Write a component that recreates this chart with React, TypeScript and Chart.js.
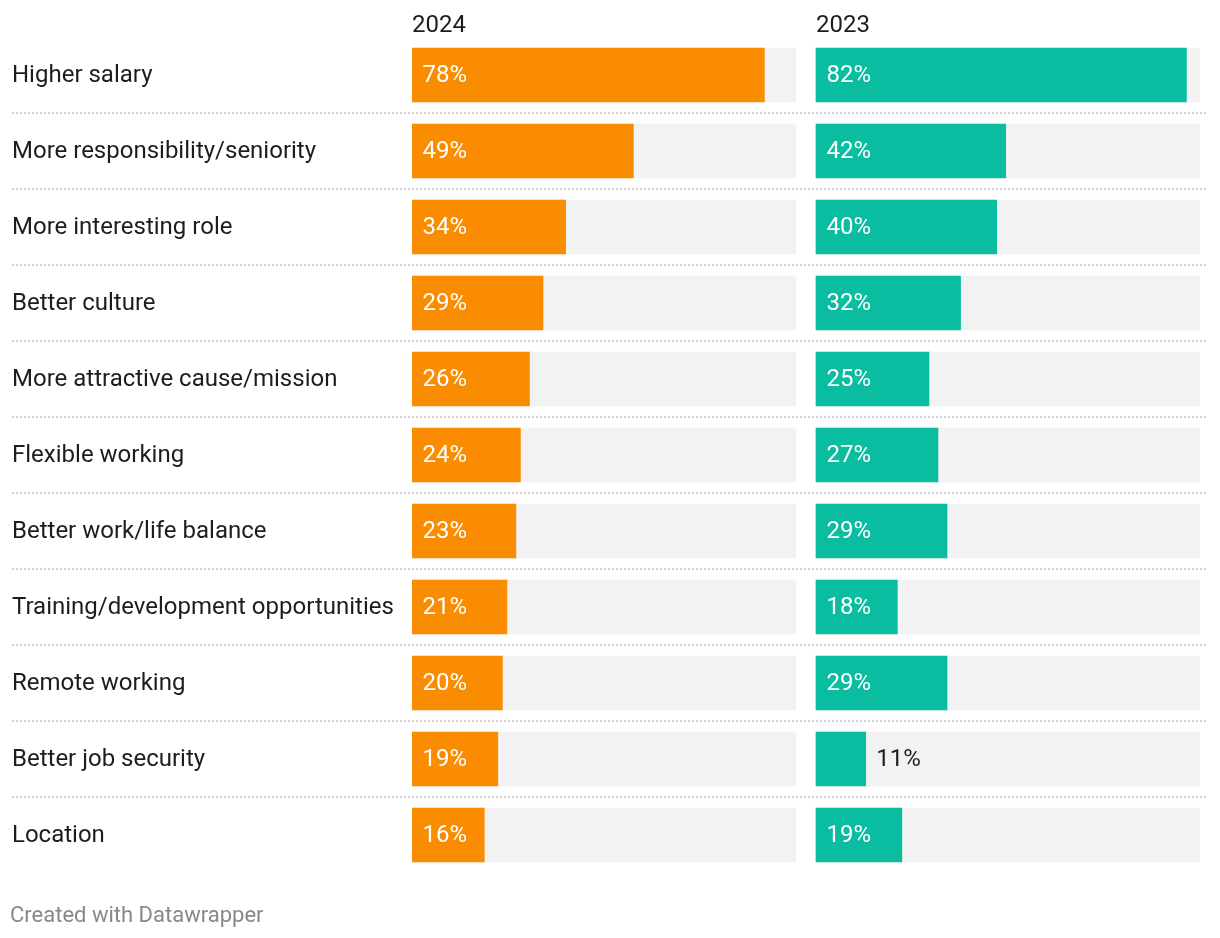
import React, { useEffect, useRef } from "react";
import { Chart, registerables } from "chart.js";

Chart.register(...registerables);

const categories = [
  "Higher salary",
  "More responsibility/seniority",
  "More interesting role",
  "Better culture",
  "More attractive cause/mission",
  "Flexible working",
  "Better work/life balance",
  "Training/development opportunities",
  "Remote working",
  "Better job security",
  "Location",
];
const values2024 = [78, 49, 34, 29, 26, 24, 23, 21, 20, 19, 16];
const values2023 = [82, 42, 40, 32, 25, 27, 29, 18, 29, 11, 19];
const panelTitles = ["2024", "2023"];
const footerText = "Created with Datawrapper";

const PANEL_MAX = 85;
const GAP = 4.427;
const OFFSET = PANEL_MAX + GAP;

const FONT = "Roboto, 'Noto Sans', sans-serif";
const ORANGE = "#F98C00";
const TEAL = "#0BBDA0";
const TRACK = "#F2F2F2";
const TEXT = "#1d1d1d";

export default function App() {
  const ref = useRef<HTMLCanvasElement | null>(null);

  useEffect(() => {
    if (!ref.current) return;

    const overlay = {
      id: "overlay",
      beforeDatasetsDraw(chart: any) {
        const ctx = chart.ctx;
        const y = chart.scales.y;
        ctx.save();
        ctx.strokeStyle = "#d0d0d0";
        ctx.lineWidth = 2;
        ctx.setLineDash([2, 2]);
        for (let i = 0; i < categories.length - 1; i++) {
          const py = Math.round((y.getPixelForValue(i) + y.getPixelForValue(i + 1)) / 2);
          ctx.beginPath();
          ctx.moveTo(12, py);
          ctx.lineTo(1208, py);
          ctx.stroke();
        }
        ctx.restore();
      },
      afterDatasetsDraw(chart: any) {
        const ctx = chart.ctx;
        const x = chart.scales.x;
        ctx.save();
        ctx.font = `24px ${FONT}`;
        ctx.textBaseline = "alphabetic";
        ctx.textAlign = "left";
        const sources = [values2024, values2023];
        sources.forEach((vals, di) => {
          const meta = chart.getDatasetMeta(di);
          meta.data.forEach((el: any, j: number) => {
            const p = el.getProps(["x", "y", "base"], true);
            const start = Math.min(p.x, p.base);
            const end = Math.max(p.x, p.base);
            const label = `${vals[j]}%`;
            const w = ctx.measureText(label).width;
            if (end - start >= w + 20) {
              ctx.fillStyle = "#ffffff";
              ctx.fillText(label, start + 10.5, p.y + 7);
            } else {
              ctx.fillStyle = TEXT;
              ctx.fillText(label, end + 10.5, p.y + 7);
            }
          });
        });
        // panel titles
        ctx.fillStyle = TEXT;
        ctx.fillText(panelTitles[0], x.getPixelForValue(0), 32);
        ctx.fillText(panelTitles[1], x.getPixelForValue(OFFSET), 32);
        // footer
        ctx.font = `22px ${FONT}`;
        ctx.fillStyle = "#888888";
        ctx.fillText(footerText, 10, 922);
        ctx.restore();
      },
    };

    const chart = new Chart(ref.current, {
      type: "bar",
      data: {
        labels: categories,
        datasets: [
          {
            label: panelTitles[0],
            data: values2024.map((v) => [0, v]) as any,
            backgroundColor: ORANGE,
            grouped: false,
            order: 1,
            barThickness: 54,
          },
          {
            label: panelTitles[1],
            data: values2023.map((v) => [OFFSET, OFFSET + v]) as any,
            backgroundColor: TEAL,
            grouped: false,
            order: 1,
            barThickness: 54,
          },
          {
            label: "track2024",
            data: categories.map(() => [0, PANEL_MAX]) as any,
            backgroundColor: TRACK,
            grouped: false,
            order: 2,
            barThickness: 54,
          },
          {
            label: "track2023",
            data: categories.map(() => [OFFSET, OFFSET + PANEL_MAX]) as any,
            backgroundColor: TRACK,
            grouped: false,
            order: 2,
            barThickness: 54,
          },
        ],
      },
      options: {
        indexAxis: "y",
        responsive: false,
        animation: false,
        devicePixelRatio: 1,
        layout: { padding: { left: 12, right: 20, top: 37, bottom: 65 } },
        plugins: {
          legend: { display: false },
          tooltip: { enabled: false },
        },
        scales: {
          x: {
            display: false,
            min: 0,
            max: OFFSET + PANEL_MAX,
          },
          y: {
            grid: { display: false },
            border: { display: false },
            ticks: {
              crossAlign: "far",
              color: TEXT,
              font: { family: FONT, size: 24 },
              padding: 0,
              labelOffset: 1,
            },
            afterFit: (scale: any) => {
              scale.width = 400;
            },
          },
        },
      },
      plugins: [overlay],
    });

    const fonts = (document as any).fonts;
    if (fonts && fonts.load) {
      fonts.load(`24px Roboto`).then(() => chart.update()).catch(() => {});
    }

    return () => chart.destroy();
  }, []);

  return (
    <div style={{ position: "absolute", left: 0, top: 0, width: 1220, height: 938, background: "#fff" }}>
      <canvas ref={ref} width={1220} height={938} style={{ display: "block" }} />
    </div>
  );
}
